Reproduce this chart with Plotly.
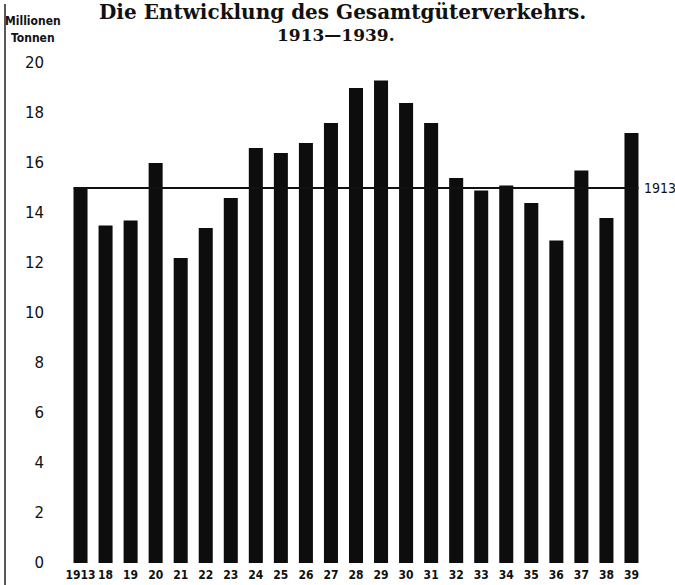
import plotly.graph_objects as go

categories = ["1913", "18", "19", "20", "21", "22", "23", "24", "25", "26", "27", "28",
              "29", "30", "31", "32", "33", "34", "35", "36", "37", "38", "39"]
values = [15.0, 13.5, 13.7, 16.0, 12.2, 13.4, 14.6, 16.6, 16.4, 16.8, 17.6, 19.0,
          19.3, 18.4, 17.6, 15.4, 14.9, 15.1, 14.4, 12.9, 15.7, 13.8, 17.2]
ref_value = 15.0
ref_label = "1913"
y_ticks = [0, 2, 4, 6, 8, 10, 12, 14, 16, 18, 20]
title_line1 = "Die Entwicklung des Gesamtgüterverkehrs."
title_line2 = "1913—1939."
y_title_1 = "Millionen"
y_title_2 = "Tonnen"

W, H = 675, 585
L, R, T, B = 68, 31, 38, 22
pw = W - L - R
ph = H - T - B

COND = "DejaVu Sans Condensed, Liberation Sans Narrow, Arial Narrow, sans-serif"
SERIF = "DejaVu Serif, Liberation Serif, serif"


def px_x(x):
    return (x - L) / pw


def px_y(y):
    return (H - B - y) / ph


fig = go.Figure()
fig.add_trace(go.Bar(x=categories, y=values, marker=dict(color="#0d0d0d", line=dict(width=0)),
                     width=0.56, hoverinfo="x+y"))

half = 0.28
fig.add_shape(type="line", xref="x", yref="y", x0=-half, x1=len(categories) - 1 + half,
              y0=ref_value, y1=ref_value, line=dict(color="#111", width=2), layer="above")
fig.add_annotation(x=len(categories) - 1 + half, y=ref_value, xref="x", yref="y",
                   text=ref_label, showarrow=False, xanchor="left", xshift=4,
                   font=dict(family=COND, size=14, color="#111", weight=500))

# left border line
fig.add_shape(type="line", xref="paper", yref="paper",
              x0=px_x(5), x1=px_x(5), y0=px_y(H), y1=px_y(4),
              line=dict(color="#222", width=1.5))

fig.add_annotation(xref="paper", yref="paper", x=px_x(33), y=px_y(21),
                   text=y_title_1, showarrow=False, xanchor="center", yanchor="middle",
                   font=dict(family=COND, size=12, color="#111", weight="bold"))
fig.add_annotation(xref="paper", yref="paper", x=px_x(33), y=px_y(38),
                   text=y_title_2, showarrow=False, xanchor="center", yanchor="middle",
                   font=dict(family=COND, size=12, color="#111", weight="bold"))

fig.add_annotation(xref="paper", yref="paper", x=px_x(342), y=px_y(12),
                   text=title_line1, showarrow=False, xanchor="center", yanchor="middle",
                   font=dict(family=SERIF, size=20, color="#111", weight="bold"))
fig.add_annotation(xref="paper", yref="paper", x=px_x(336), y=px_y(35),
                   text=title_line2, showarrow=False, xanchor="center", yanchor="middle",
                   font=dict(family=SERIF, size=17, color="#111", weight="bold"))

fig.update_layout(
    width=W, height=H,
    margin=dict(l=L, r=R, t=T, b=B),
    paper_bgcolor="white", plot_bgcolor="white",
    showlegend=False,
    xaxis=dict(type="category", showgrid=False, showline=False, zeroline=False, ticks="",
               tickfont=dict(family=COND, size=12, color="#111", weight="bold"),
               ticklabelstandoff=3, range=[-0.5, len(categories) - 0.5], automargin=False),
    yaxis=dict(range=[0, 21], tickvals=y_ticks, showgrid=False, showline=False, zeroline=False,
               ticks="", ticklabelstandoff=23, automargin=False,
               tickfont=dict(family="DejaVu Sans, sans-serif", size=15, color="#111", weight=500)),
)

fig.write_html("out.html", config={"displayModeBar": False},
               post_script="document.body.style.margin='0px';")
